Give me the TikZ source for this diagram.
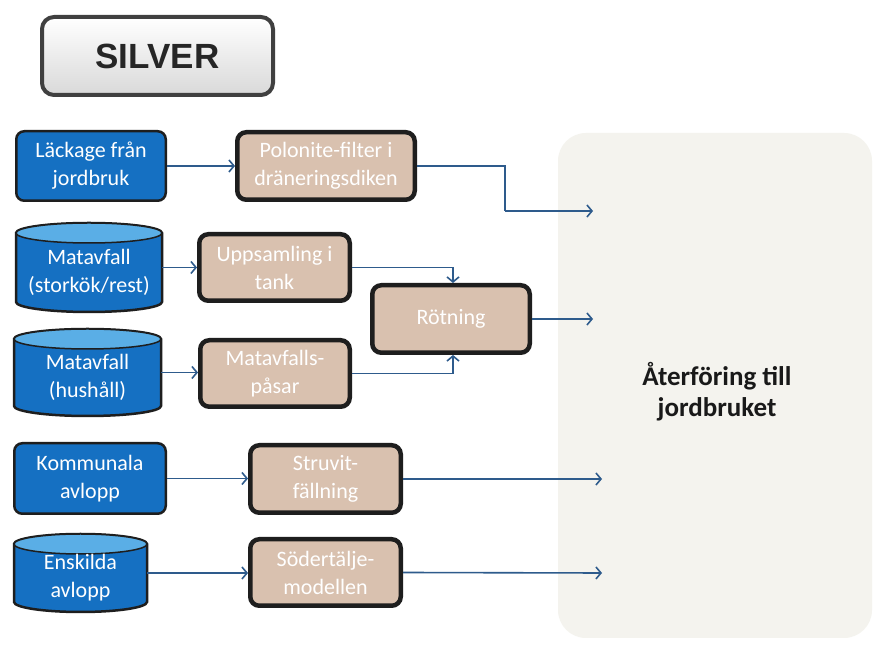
\documentclass[tikz,border=0pt]{standalone}
\usepackage{fontspec}
\setmainfont{Carlito}
\newfontfamily\arialfont{Liberation Sans}
\usetikzlibrary{arrows.meta}
\definecolor{boxblue}{HTML}{1570C2}
\definecolor{cyltop}{HTML}{5AAEE6}
\definecolor{tanfill}{HTML}{D9C1AF}
\definecolor{arrowc}{HTML}{2E5B8C}
\definecolor{bgpanel}{HTML}{F4F3EE}
\definecolor{edgec}{HTML}{1E1E1E}
\newcommand{\mycyl}[7]{% name, L, R, B, T, text, text yshift
  \pgfmathsetmacro\cx{(#2+#3)/2}
  \pgfmathsetmacro\rx{(#3-#2)/2}
  \pgfmathsetmacro\cy{(#4+#5)/2}
  \filldraw[draw=edgec, line width=2.5pt, fill=boxblue] (#2,#5-10) -- (#2,#4+10)
     arc[start angle=180,end angle=360,x radius=\rx,y radius=10] -- (#3,#5-10)
     arc[start angle=0,end angle=180,x radius=\rx,y radius=10] -- cycle;
  \filldraw[draw=edgec, line width=1.5pt, fill=cyltop] (\cx,#5-10) ellipse[x radius=\rx, y radius=10];
  \node[minimum width=#3-#2, minimum height=#5-#4, inner sep=0pt] (#1) at (\cx,\cy) {};
  \node[boxtext] (#1-t) at ([yshift=#7]#1.center) {#6};
}
\begin{document}
\begin{tikzpicture}[x=1pt,y=1pt,
  boxtext/.style={text=white, align=center, font=\fontsize{22}{28}\selectfont, inner sep=0pt},
  bluebox/.style={boxtext, draw=edgec, line width=2.5pt, fill=boxblue, rounded corners=8pt},
  tanbox/.style={boxtext, draw=edgec, line width=4.5pt, fill=tanfill, rounded corners=9pt},
  flow/.style={draw=arrowc, line width=1.6pt, -{Straight Barb[length=5pt,width=12pt]}}
]
\useasboundingbox (0,0) rectangle (873,645);
\fill[white] (0,0) rectangle (873,645);

% right panel
\fill[bgpanel, rounded corners=28pt] (558,7) rectangle (872,512);
\node[font=\bfseries\fontsize{27}{31}\selectfont, align=center, text=black!90] (ret) at (717,253) {Återföring till\\jordbruket};

% title
\node[draw=edgec!85, line width=4pt, rounded corners=12pt, top color=white, bottom color=gray!30,
      minimum width=231pt, minimum height=78pt, font=\arialfont\bfseries\fontsize{35}{40}\selectfont, text=black!85] (silver) at (157.5,589) {SILVER};

% sources
\node[bluebox, minimum width=149.5pt, minimum height=69.5pt] (lack) at (91,479) {Läckage från\\jordbruk};
\mycyl{mat1}{16}{162}{333}{422}{Matavfall\\(storkök/rest)}{-5pt}
\mycyl{mat2}{14}{161}{229}{316}{Matavfall\\(hushåll)}{-5pt}
\node[bluebox, minimum width=151.5pt, minimum height=70.5pt] (kom) at (90,166.5) {Kommunala\\avlopp};
\mycyl{ensk}{14}{147}{33}{111}{Enskilda\\avlopp}{-5pt}

% processes
\node[tanbox, minimum width=177.5pt, minimum height=67.5pt] (pol) at (326,479) {Polonite-filter i\\dräneringsdiken};
\node[tanbox, minimum width=150.5pt, minimum height=66.5pt] (upp) at (274.5,377.5) {Uppsamling i\\tank};
\node[tanbox, minimum width=157.5pt, minimum height=67.5pt] (rot) at (451,326) {Rötning};
\node[tanbox, minimum width=149.5pt, minimum height=66.5pt] (pas) at (275,271.5) {Matavfalls-\\påsar};
\node[tanbox, minimum width=150.5pt, minimum height=67.5pt] (str) at (325.5,166) {Struvit-\\fällning};
\node[tanbox, minimum width=150.5pt, minimum height=66.5pt] (sod) at (325.5,72.5) {Södertälje-\\modellen};

% free ends
\coordinate (j1) at (505,434);
\coordinate (e1) at (593,434);
\coordinate (e2) at (593,326);
\coordinate (e3) at (602,166);
\coordinate (e4) at (602,72);

% connectors
\draw[flow] (lack.east) -- (lack.east -| pol.west);
\draw[flow, arrows=-] (pol.east) -| (j1);
\draw[flow] (j1) -- (e1);
\draw[flow] (mat1.east) -- (mat1.east -| upp.west);
\draw[flow] (upp.east) -| ([xshift=2pt]rot.north);
\draw[flow] (mat2.east) -- (mat2.east -| pas.west);
\draw[flow] (pas.east) -| ([xshift=2pt]rot.south);
\draw[flow] (rot.east) -- (e2);
\draw[flow] (kom.east) -- (kom.east -| str.west);
\draw[flow] (str.east) -- (e3);
\draw[flow] (ensk.east) -- (ensk.east -| sod.west);
\draw[flow] (sod.east) -- (e4);
\end{tikzpicture}
\end{document}
